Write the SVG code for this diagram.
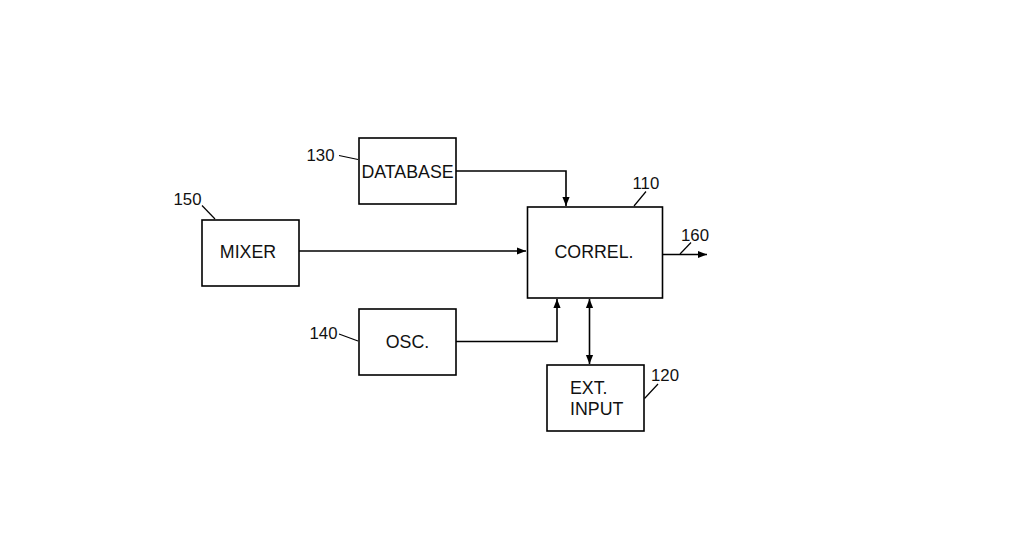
<svg xmlns="http://www.w3.org/2000/svg" width="1024" height="536" viewBox="0 0 1024 536">
<defs>
<marker id="ah" viewBox="0 0 10 10" refX="10" refY="5" markerWidth="9" markerHeight="9" markerUnits="userSpaceOnUse" orient="auto-start-reverse">
<path d="M0,1 L10,5 L0,9 z" fill="#000"/>
</marker>
<style>
.box{fill:#fff;stroke:#000;stroke-width:1.6}
.ln{fill:none;stroke:#000;stroke-width:1.6}
.ld{fill:none;stroke:#000;stroke-width:1.2}
.t{font-family:"Liberation Sans",Arial,sans-serif;font-size:17.8px;fill:#111}
.n{font-family:"Liberation Sans",Arial,sans-serif;font-size:16.8px;fill:#111}
</style>
</defs>
<rect width="1024" height="536" fill="#fff"/>
<g id="connectors">
<path class="ln" d="M456,171 H566 V206" marker-end="url(#ah)"/>
<path class="ln" d="M299,251 H526" marker-end="url(#ah)"/>
<path class="ln" d="M456,341.5 H557 V299" marker-end="url(#ah)"/>
<path class="ln" d="M589.5,299 V364" marker-start="url(#ah)" marker-end="url(#ah)"/>
<path class="ln" d="M663,254.5 H707" marker-end="url(#ah)"/>
</g>
<g id="n130">
<rect class="box" x="359" y="138" width="97" height="66"/>
<text class="t" x="407.5" y="177.5" text-anchor="middle">DATABASE</text>
<text class="n" x="306.5" y="161">130</text>
<path class="ld" d="M339,155.5 L358,159.5"/>
</g>
<g id="n150">
<rect class="box" x="202" y="220" width="97" height="66"/>
<text class="t" x="248" y="258" text-anchor="middle">MIXER</text>
<text class="n" x="173.5" y="205">150</text>
<path class="ld" d="M202,205.5 L215,219"/>
</g>
<g id="n110">
<rect class="box" x="527.5" y="207" width="135" height="91"/>
<text class="t" x="594" y="258" text-anchor="middle">CORREL.</text>
<text class="n" x="632.5" y="189">110</text>
<path class="ld" d="M646,191.5 L634,206"/>
</g>
<g id="n160">
<text class="n" x="681" y="240.5">160</text>
<path class="ld" d="M691,242.5 L680,254"/>
</g>
<g id="n140">
<rect class="box" x="359" y="309" width="97" height="66"/>
<text class="t" x="407.5" y="348" text-anchor="middle">OSC.</text>
<text class="n" x="309.5" y="338.5">140</text>
<path class="ld" d="M339,334 L358,341"/>
</g>
<g id="n120">
<rect class="box" x="547" y="365" width="97" height="66"/>
<text class="t" x="570" y="394">EXT.</text>
<text class="t" x="570" y="415">INPUT</text>
<text class="n" x="651" y="381">120</text>
<path class="ld" d="M658,384 L644.5,398.5"/>
</g>
</svg>
